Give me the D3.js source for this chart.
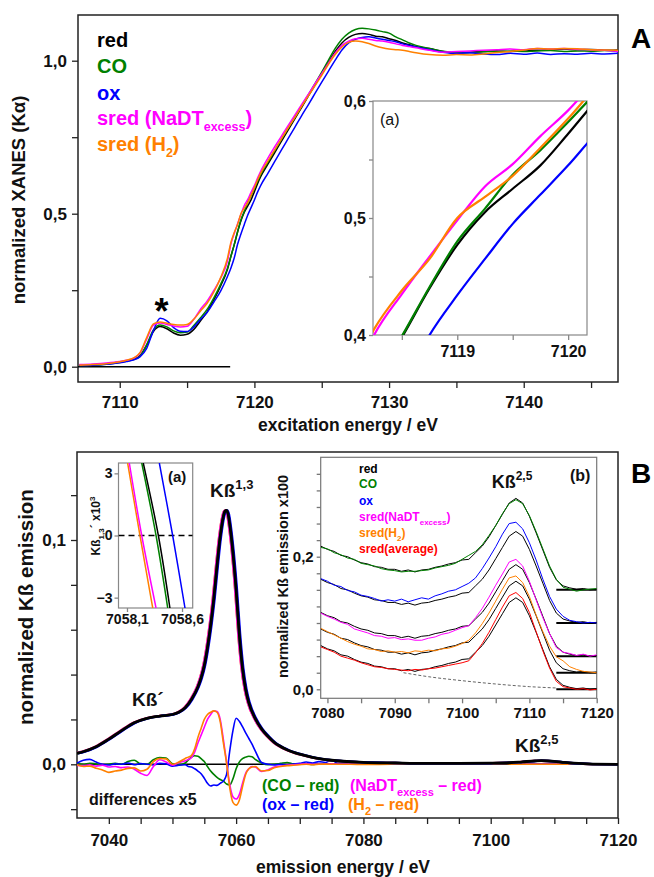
<!DOCTYPE html>
<html><head><meta charset="utf-8">
<script src="https://cdn.jsdelivr.net/npm/d3@7/dist/d3.min.js"></script>
<style>html,body{margin:0;padding:0;background:#fff;}</style>
</head><body>
<svg id="chart" width="654" height="877" xmlns="http://www.w3.org/2000/svg"></svg>
<script>
const FONT = '"Liberation Sans", Arial, Helvetica, sans-serif';

// ---------------- Panel A: Fe K-edge XANES ----------------
const energyA = [7107,7108,7109,7110,7110.5,7111,7111.5,7112,7112.5,7113,7113.5,7114,7114.5,7115,7115.5,7116,7116.5,7117,7117.5,7118,7118.25,7118.5,7118.75,7119,7119.25,7119.5,7119.75,7120,7120.25,7120.5,7121,7121.5,7122,7122.5,7123,7123.5,7124,7124.5,7125,7125.5,7126,7126.5,7127,7127.5,7128,7128.5,7129,7129.5,7130,7130.5,7131,7131.5,7132,7133,7134,7135,7136,7137,7138,7139,7140,7141,7142,7143,7144,7145,7146,7147];
const xanesRed = [0.005,0.006,0.009,0.015,0.019,0.024,0.036,0.070,0.115,0.131,0.124,0.110,0.103,0.106,0.122,0.150,0.180,0.220,0.265,0.318,0.360,0.398,0.440,0.477,0.505,0.525,0.545,0.572,0.600,0.624,0.662,0.699,0.736,0.773,0.810,0.847,0.884,0.921,0.958,0.995,1.030,1.058,1.076,1.086,1.089,1.086,1.080,1.078,1.072,1.066,1.058,1.052,1.046,1.040,1.030,1.026,1.028,1.030,1.032,1.030,1.035,1.034,1.036,1.038,1.036,1.037,1.034,1.035];
const xanesCO = [0.004,0.005,0.008,0.014,0.018,0.023,0.035,0.072,0.120,0.136,0.130,0.117,0.111,0.113,0.135,0.160,0.188,0.226,0.270,0.322,0.360,0.399,0.441,0.480,0.508,0.537,0.558,0.582,0.607,0.630,0.668,0.705,0.742,0.779,0.815,0.852,0.888,0.925,0.963,1.002,1.040,1.070,1.090,1.102,1.106,1.104,1.100,1.095,1.090,1.078,1.068,1.058,1.050,1.040,1.031,1.027,1.026,1.029,1.030,1.031,1.030,1.032,1.033,1.030,1.032,1.031,1.033,1.030];
const xanesOx = [0.004,0.005,0.008,0.013,0.017,0.022,0.032,0.060,0.118,0.158,0.150,0.128,0.116,0.115,0.130,0.155,0.178,0.212,0.248,0.295,0.322,0.355,0.400,0.434,0.465,0.495,0.520,0.545,0.572,0.595,0.632,0.670,0.708,0.745,0.782,0.820,0.856,0.893,0.930,0.966,1.002,1.035,1.058,1.070,1.076,1.078,1.074,1.070,1.066,1.062,1.055,1.050,1.045,1.036,1.028,1.024,1.026,1.022,1.020,1.024,1.021,1.025,1.020,1.023,1.021,1.024,1.022,1.024];
const xanesNaDT = [0.007,0.009,0.012,0.017,0.021,0.027,0.044,0.090,0.136,0.143,0.138,0.133,0.130,0.132,0.155,0.188,0.215,0.250,0.290,0.345,0.400,0.435,0.467,0.498,0.527,0.546,0.570,0.592,0.618,0.642,0.682,0.718,0.753,0.788,0.822,0.856,0.890,0.925,0.958,0.992,1.025,1.050,1.064,1.072,1.073,1.070,1.066,1.064,1.060,1.055,1.050,1.046,1.042,1.034,1.028,1.030,1.032,1.034,1.036,1.038,1.036,1.040,1.038,1.040,1.037,1.036,1.034,1.030];
const xanesH2 = [0.005,0.007,0.010,0.016,0.021,0.028,0.046,0.095,0.140,0.146,0.142,0.138,0.136,0.138,0.155,0.182,0.208,0.245,0.292,0.355,0.405,0.438,0.465,0.500,0.518,0.536,0.560,0.585,0.612,0.635,0.672,0.708,0.744,0.780,0.814,0.850,0.884,0.918,0.952,0.988,1.020,1.045,1.060,1.064,1.062,1.056,1.048,1.042,1.038,1.036,1.034,1.030,1.026,1.020,1.018,1.020,1.019,1.022,1.027,1.030,1.035,1.040,1.038,1.040,1.039,1.036,1.035,1.034];
const xanesLegend = ["red","CO","ox","sred (NaDT","sred (H"];
const xanesSub = ["","","","excess","2"];
const xanesEdgeBaselineEnd = 7118.2;

// ---------------- Panel B: Kβ emission ----------------
const energyB = [7035,7036,7038,7040,7042,7044,7046,7048,7050,7051,7052,7053,7054,7054.5,7055,7055.5,7056,7056.5,7057,7057.5,7058,7058.25,7058.5,7058.75,7059,7059.5,7060,7060.5,7061,7061.5,7062,7063,7064,7065,7066,7068,7070,7072,7075,7080,7085,7090,7095,7100,7103,7105,7107,7108,7109,7111,7113,7116,7120];
const kbRed = [0.0049,0.0056,0.0078,0.0112,0.0150,0.0185,0.0205,0.0215,0.0222,0.0232,0.0252,0.0290,0.0345,0.0385,0.0440,0.0520,0.0620,0.0740,0.0885,0.1015,0.1105,0.1128,0.1132,0.1115,0.1070,0.0945,0.0780,0.0580,0.0430,0.0335,0.0275,0.0205,0.0158,0.0125,0.0098,0.0065,0.0045,0.0031,0.0018,0.0009,0.0006,0.0004,0.0004,0.0005,0.0007,0.0011,0.0015,0.0016,0.0015,0.0010,0.0005,0.0001,0.0000];
// energy shift (eV) of each sample's Kβ1,3 line relative to "red" (from derivative zero crossings)
const kbSamples = ["CO","ox","NaDT","H2"];
const kbShiftEV = [-0.021, 0.130, -0.151, -0.167];

// differences (sample - red) x5
const energyDiff = [7035,7036,7037,7038,7039,7040,7041,7042,7043,7044,7045,7046,7047,7048,7049,7050,7051,7052,7052.5,7053,7053.5,7054,7054.5,7055,7055.5,7056,7056.5,7057,7057.5,7058,7058.5,7059,7059.5,7060,7060.5,7061,7061.5,7062,7062.5,7063,7064,7065,7066,7067,7068,7069,7070,7071,7072,7073,7074,7075,7076,7078,7080,7085,7090,7100,7110,7120];
const diffCO = [0.0003,0.0000,0.0005,0.0002,-0.0002,0.0000,0.0004,0.0000,0.0012,0.0018,0.0002,0.0000,0.0020,0.0030,0.0028,0.0002,-0.0002,0.0006,0.0020,0.0032,0.0038,0.0036,0.0025,0.0012,-0.0010,-0.0030,-0.0045,-0.0058,-0.0068,-0.0075,-0.0088,-0.0092,-0.0065,-0.0020,0.0010,0.0025,0.0032,0.0036,0.0034,0.0022,0.0006,-0.0002,0.0000,0.0004,0.0008,0.0002,0.0000,0.0002,-0.0001,0.0001,0.0000,0.0002,0.0000,0.0001,0.0000,0.0000,0.0001,0.0000,0.0000,0.0000];
const diffOx = [0.0005,0.0018,0.0022,0.0010,0.0000,-0.0003,0.0002,0.0000,0.0006,-0.0002,0.0003,0.0000,-0.0003,0.0004,0.0002,-0.0008,-0.0004,-0.0002,-0.0010,-0.0012,-0.0020,-0.0030,-0.0042,-0.0062,-0.0085,-0.0097,-0.0092,-0.0094,-0.0085,-0.0075,-0.0045,0.0060,0.0150,0.0205,0.0192,0.0168,0.0140,0.0115,0.0090,0.0060,0.0008,0.0000,-0.0003,0.0000,-0.0002,0.0001,0.0004,0.0010,0.0006,0.0012,0.0008,0.0018,0.0004,0.0002,0.0000,0.0000,0.0000,0.0000,0.0000,0.0000];
const diffNaDT = [-0.0005,-0.0006,-0.0002,-0.0008,-0.0004,-0.0012,-0.0010,-0.0015,-0.0012,-0.0022,-0.0040,-0.0050,-0.0010,0.0020,0.0010,-0.0004,0.0008,0.0016,0.0022,0.0030,0.0055,0.0095,0.0130,0.0165,0.0200,0.0222,0.0238,0.0235,0.0200,0.0110,0.0010,-0.0090,-0.0145,-0.0155,-0.0135,-0.0085,-0.0040,-0.0020,-0.0010,-0.0012,-0.0032,-0.0025,-0.0012,-0.0008,-0.0004,-0.0002,0.0000,0.0002,0.0000,0.0001,0.0000,0.0002,0.0000,0.0000,0.0000,0.0000,0.0000,0.0000,0.0000,0.0000];
const diffH2 = [-0.0002,-0.0010,-0.0008,-0.0018,-0.0025,-0.0036,-0.0030,-0.0026,-0.0018,-0.0016,-0.0030,-0.0022,0.0012,0.0026,0.0024,0.0000,0.0010,0.0026,0.0032,0.0040,0.0070,0.0120,0.0160,0.0200,0.0222,0.0232,0.0238,0.0232,0.0190,0.0095,0.0005,-0.0105,-0.0170,-0.0182,-0.0160,-0.0100,-0.0045,-0.0020,-0.0012,-0.0010,-0.0030,-0.0028,-0.0015,-0.0010,-0.0006,-0.0004,-0.0002,0.0000,-0.0002,0.0000,0.0001,0.0000,0.0000,0.0000,-0.0001,0.0000,0.0000,0.0000,0.0000,0.0000];

// inset (a): first derivative of Kβ1,3 (x10^3) near its zero crossing
const derivLevels = [3.5, 0, -3.5];
const derivRed  = [7058.248, 7058.385, 7058.490];
const derivCO   = [7058.234, 7058.364, 7058.470];
const derivOx   = [7058.394, 7058.515, 7058.627];
const derivNaDT = [7058.121, 7058.234, 7058.364];
const derivH2   = [7058.106, 7058.218, 7058.334];

// inset (b): Kβ2,5 region x100, stacked with offsets
const energyK25 = [7079,7080,7081,7082,7083,7084,7085,7086,7087,7088,7089,7090,7091,7092,7093,7094,7095,7096,7097,7098,7099,7100,7101,7102,7103,7104,7105,7106,7107,7108,7109,7110,7111,7112,7113,7114,7115,7116,7117,7118,7119,7120];
const k25Red  = [0.066,0.061,0.058,0.052,0.050,0.045,0.041,0.039,0.035,0.034,0.031,0.031,0.028,0.030,0.027,0.030,0.031,0.034,0.036,0.039,0.041,0.045,0.046,0.056,0.066,0.080,0.097,0.114,0.131,0.138,0.131,0.111,0.086,0.060,0.034,0.015,0.006,0.003,0.001,0.002,0.000,0.001];
const k25CO   = [0.064,0.062,0.056,0.053,0.048,0.046,0.040,0.038,0.036,0.032,0.030,0.029,0.027,0.028,0.028,0.029,0.030,0.033,0.035,0.037,0.040,0.046,0.052,0.058,0.068,0.082,0.097,0.115,0.130,0.136,0.130,0.112,0.088,0.062,0.036,0.016,0.004,0.001,-0.002,0.000,0.001,0.002];
const k25Ox   = [0.067,0.063,0.057,0.055,0.049,0.047,0.042,0.040,0.037,0.033,0.035,0.033,0.036,0.032,0.035,0.038,0.036,0.041,0.044,0.048,0.050,0.055,0.060,0.068,0.082,0.098,0.115,0.134,0.150,0.152,0.142,0.121,0.095,0.066,0.040,0.021,0.010,0.004,0.002,0.000,0.001,0.000];
const k25NaDT = [0.065,0.060,0.056,0.051,0.048,0.041,0.038,0.035,0.031,0.030,0.027,0.028,0.025,0.026,0.024,0.024,0.027,0.029,0.033,0.035,0.039,0.043,0.046,0.058,0.072,0.089,0.107,0.124,0.142,0.146,0.136,0.113,0.085,0.058,0.034,0.013,0.006,0.004,0.001,0.003,0.000,0.002];
const k25H2   = [0.067,0.062,0.057,0.052,0.047,0.043,0.040,0.036,0.035,0.032,0.033,0.031,0.032,0.030,0.033,0.032,0.034,0.033,0.036,0.037,0.040,0.044,0.049,0.060,0.074,0.090,0.108,0.126,0.143,0.146,0.136,0.115,0.087,0.062,0.040,0.024,0.018,0.009,0.005,0.002,0.001,0.000];
const k25Avg  = [0.064,0.060,0.056,0.050,0.047,0.044,0.040,0.037,0.034,0.033,0.031,0.030,0.029,0.028,0.030,0.029,0.031,0.032,0.034,0.036,0.038,0.040,0.043,0.055,0.069,0.086,0.105,0.124,0.141,0.146,0.137,0.116,0.087,0.058,0.032,0.012,0.004,0.002,0.000,0.001,-0.001,0.000];
const k25Offsets = [0.15, 0.10, 0.05, 0.025, 0.0];
const k25BaseStart = 7114;
const bgEnergy = [7091.3,7095,7100,7105,7110,7114];
const bgValue  = [0.025,0.019,0.013,0.008,0.004,0.002];
const k25Legend = ["red","CO","ox","sred(NaDT","sred(H","sred(average)"];
const k25LegendSub = ["","","","excess","2",""];

// ---------------- colours ----------------
const C = {red:"#000000", CO:"#008000", ox:"#0000ff", NaDT:"#ff00ff", H2:"#ff8000", avg:"#ff0000"};

// ================= drawing =================
const svg = d3.select("#chart");
const fmtComma = d => d3.format(".1f")(d).replace(".", ",");
const near = (a,b) => Math.abs(a-b) < 1e-9;

function styleAxis(g, size, tickColor) {
  g.select(".domain").remove();
  g.attr("font-family", FONT).attr("font-size", size).attr("font-weight", "bold");
  g.selectAll(".tick line").attr("stroke", tickColor || "#222").attr("stroke-width", 1.3);
  g.selectAll(".tick text").attr("fill", "#111");
}
function frame(x0, x1, y0, y1, stroke, sw, fill) {
  svg.append("rect").attr("x", x0).attr("y", y0).attr("width", x1 - x0).attr("height", y1 - y0)
    .attr("fill", fill || "none").attr("stroke", stroke).attr("stroke-width", sw);
}
function clip(id, x0, x1, y0, y1) {
  svg.append("clipPath").attr("id", id).append("rect").attr("x", x0).attr("y", y0).attr("width", x1 - x0).attr("height", y1 - y0);
}
function label(x, y, parts, size, color, opts) {
  opts = opts || {};
  const t = svg.append("text").attr("x", x).attr("y", y).attr("font-family", FONT)
    .attr("font-size", size).attr("font-weight", opts.weight || "bold").attr("fill", color)
    .attr("text-anchor", opts.anchor || "start");
  if (opts.transform) t.attr("transform", opts.transform).attr("x", 0).attr("y", 0);
  let shift = 0;
  parts.forEach(p => {
    const s = t.append("tspan").text(p.t);
    const target = p.sub ? size * 0.3 : (p.sup ? -size * 0.42 : 0);
    if (target !== shift) { s.attr("dy", target - shift); shift = target; }
    if (p.sub || p.sup) s.attr("font-size", p.size || size * 0.65);
  });
  return t;
}

// ---------- Panel A ----------
const A = {x0: 78, x1: 618, y0: 15, y1: 382};
const xA = d3.scaleLinear().domain([7106.9, 7147]).range([A.x0, A.x1]);
const yA = d3.scaleLinear().domain([0, 1]).range([366.7, 60.7]);
frame(A.x0, A.x1, A.y0, A.y1, "#222", 1.5, "#fff");
clip("clipA", A.x0, A.x1, A.y0, A.y1);

svg.append("g").attr("transform", `translate(0,${A.y1})`)
  .call(d3.axisBottom(xA).tickValues(d3.range(7110, 7146, 5)).tickSize(6).tickPadding(8)
    .tickFormat(d => d % 10 === 0 ? d : ""))
  .call(g => styleAxis(g, 17));
svg.append("g").attr("transform", `translate(${A.x0},0)`)
  .call(d3.axisLeft(yA).tickValues([0, 0.25, 0.5, 0.75, 1]).tickSize(6).tickPadding(5)
    .tickFormat(d => (near(d,0) || near(d,0.5) || near(d,1)) ? fmtComma(d) : ""))
  .call(g => styleAxis(g, 17));

svg.append("line").attr("x1", xA(7106.9)).attr("x2", xA(xanesEdgeBaselineEnd))
  .attr("y1", yA(0)).attr("y2", yA(0)).attr("stroke", "#000").attr("stroke-width", 1.5);

const seriesA = [
  {v: xanesRed, c: C.red}, {v: xanesCO, c: C.CO}, {v: xanesOx, c: C.ox},
  {v: xanesNaDT, c: C.NaDT}, {v: xanesH2, c: C.H2}
];
const lineA = (xs, ys) => d3.line().x(d => xs(d[0])).y(d => ys(d[1])).curve(d3.curveMonotoneX);
const gA = svg.append("g").attr("clip-path", "url(#clipA)");
seriesA.forEach(s => {
  gA.append("path").datum(energyA.map((e, i) => [e, s.v[i]]))
    .attr("d", lineA(xA, yA)).attr("fill", "none").attr("stroke", s.c).attr("stroke-width", 1.5);
});

// legend A
const legColorsA = [C.red, C.CO, C.ox, C.NaDT, C.H2];
const legYA = [47, 73, 99.5, 125, 151];
xanesLegend.forEach((t, i) => {
  const parts = [{t}];
  if (xanesSub[i]) { parts.push({t: xanesSub[i], sub: true, size: 12.5}); parts.push({t: ")"}); }
  label(97, legYA[i], parts, 20, legColorsA[i]);
});
label(161.5, 324, [{t: "*"}], 36, "#000", {anchor: "middle"});
label(641, 48, [{t: "A"}], 28, "#000", {anchor: "middle"});
label(348, 431, [{t: "excitation energy / eV"}], 17.5, "#111", {anchor: "middle"});
label(0, 0, [{t: "normalized XANES (Kα)"}], 18.5, "#111", {anchor: "middle", transform: "translate(25,200) rotate(-90)"});

// inset A(a)
const IA = {x0: 373, x1: 587, y0: 101, y1: 335};
const xIA = d3.scaleLinear().domain([7118.24, 7120.17]).range([IA.x0, IA.x1]);
const yIA = d3.scaleLinear().domain([0.4, 0.6]).range([IA.y1, IA.y0]);
frame(IA.x0, IA.x1, IA.y0, IA.y1, "#888", 1.2, "#fff");
clip("clipIA", IA.x0, IA.x1, IA.y0, IA.y1);
svg.append("g").attr("transform", `translate(0,${IA.y1})`)
  .call(d3.axisBottom(xIA).tickValues([7118.5, 7119, 7119.5, 7120]).tickSize(5).tickPadding(6)
    .tickFormat(d => d % 1 === 0 ? d : ""))
  .call(g => styleAxis(g, 16, "#888"));
svg.append("g").attr("transform", `translate(${IA.x0},0)`)
  .call(d3.axisLeft(yIA).tickValues([0.4, 0.45, 0.5, 0.55, 0.6]).tickSize(4).tickPadding(3)
    .tickFormat(d => (near(d,0.4) || near(d,0.5) || near(d,0.6)) ? fmtComma(d) : ""))
  .call(g => styleAxis(g, 16, "#888"));
const gIA = svg.append("g").attr("clip-path", "url(#clipIA)");
seriesA.forEach(s => {
  gIA.append("path").datum(energyA.map((e, i) => [e, s.v[i]]))
    .attr("d", lineA(xIA, yIA)).attr("fill", "none").attr("stroke", s.c).attr("stroke-width", 2.2);
});
label(380, 125, [{t: "(a)"}], 16, "#111", {weight: "normal"});

// ---------- Panel B ----------
const B = {x0: 77, x1: 618, y0: 452, y1: 818};
const xB = d3.scaleLinear().domain([7035, 7120]).range([B.x0, B.x1]);
const yB = d3.scaleLinear().domain([0, 0.1]).range([764.3, 540]);
frame(B.x0, B.x1, B.y0, B.y1, "#222", 1.5, "#fff");
clip("clipB", B.x0, B.x1, B.y0, B.y1);
svg.append("g").attr("transform", `translate(0,${B.y1})`)
  .call(d3.axisBottom(xB).tickValues(d3.range(7040, 7121, 5)).tickSize(6).tickPadding(10)
    .tickFormat(d => d % 20 === 0 ? d : ""))
  .call(g => styleAxis(g, 17));
svg.append("g").attr("transform", `translate(${B.x0},0)`)
  .call(d3.axisLeft(yB).tickValues([-0.02, 0, 0.02, 0.04, 0.06, 0.08, 0.1, 0.12]).tickSize(6).tickPadding(5)
    .tickFormat(d => (near(d,0) || near(d,0.1)) ? fmtComma(d) : ""))
  .call(g => styleAxis(g, 17));

const gB = svg.append("g").attr("clip-path", "url(#clipB)");
gB.append("line").attr("x1", B.x0).attr("x2", B.x1).attr("y1", yB(0)).attr("y2", yB(0))
  .attr("stroke", "#000").attr("stroke-width", 1.5);
const lineB = d3.line().x(d => xB(d[0])).y(d => yB(d[1])).curve(d3.curveMonotoneX);
// differences x5
const diffSeries = [{v: diffCO, c: C.CO}, {v: diffOx, c: C.ox}, {v: diffNaDT, c: C.NaDT}, {v: diffH2, c: C.H2}];
diffSeries.forEach(s => {
  gB.append("path").datum(energyDiff.map((e, i) => [e, s.v[i]]))
    .attr("d", lineB).attr("fill", "none").attr("stroke", s.c).attr("stroke-width", 1.6);
});
// Kβ main lines: samples (shifted) then red on top
const kbColors = [C.CO, C.ox, C.NaDT, C.H2];
[3, 2, 0, 1].forEach(k => {
  gB.append("path").datum(energyB.map((e, i) => [e + kbShiftEV[k], kbRed[i]]))
    .attr("d", lineB).attr("fill", "none").attr("stroke", kbColors[k]).attr("stroke-width", 2.4);
});
gB.append("path").datum(energyB.map((e, i) => [e, kbRed[i]]))
  .attr("d", lineB).attr("fill", "none").attr("stroke", C.red).attr("stroke-width", 2.8);

label(641, 483, [{t: "B"}], 28, "#000", {anchor: "middle"});
label(343, 873, [{t: "emission energy / eV"}], 17.5, "#111", {anchor: "middle"});
label(0, 0, [{t: "normalized Kß emission"}], 20.5, "#111", {anchor: "middle", transform: "translate(33,607) rotate(-90)"});
label(210, 497, [{t: "Kß"}, {t: "1,3", sup: true, size: 13}], 19, "#111");
label(132, 706, [{t: "Kß´"}], 19, "#111");
label(515, 752, [{t: "Kß"}, {t: "2,5", sup: true, size: 13}], 19, "#111");
label(89, 805, [{t: "differences x5"}], 16, "#111");
label(262, 791, [{t: "(CO – red)"}], 16, C.CO);
label(350, 791, [{t: "(NaDT"}, {t: "excess", sub: true, size: 11}, {t: " – red)"}], 16, C.NaDT);
label(262, 810, [{t: "(ox – red)"}], 16, C.ox);
label(348, 810, [{t: "(H"}, {t: "2", sub: true, size: 11}, {t: " – red)"}], 16, C.H2);

// inset B(a): derivative
const IBa = {x0: 118.5, x1: 192.7, y0: 463, y1: 608};
const xIBa = d3.scaleLinear().domain([7058.023, 7058.697]).range([IBa.x0, IBa.x1]);
const yIBa = d3.scaleLinear().domain([-3.5, 3.5]).range([IBa.y1, IBa.y0]);
frame(IBa.x0, IBa.x1, IBa.y0, IBa.y1, "#888", 1.2, "#fff");
clip("clipIBa", IBa.x0, IBa.x1, IBa.y0, IBa.y1);
svg.append("g").attr("transform", `translate(0,${IBa.y1})`)
  .call(d3.axisBottom(xIBa).tickValues([7058.1, 7058.6]).tickSize(4).tickPadding(2)
    .tickFormat(d => d3.format(".1f")(d).replace(".", ",")))
  .call(g => styleAxis(g, 14, "#888"));
svg.append("g").attr("transform", `translate(${IBa.x0},0)`)
  .call(d3.axisLeft(yIBa).tickValues([-3, 0, 3]).tickSize(4).tickPadding(2).tickFormat(d3.format("d")))
  .call(g => styleAxis(g, 14, "#888"));
const gIBa = svg.append("g").attr("clip-path", "url(#clipIBa)");
gIBa.append("line").attr("x1", IBa.x0).attr("x2", IBa.x1).attr("y1", yIBa(0)).attr("y2", yIBa(0))
  .attr("stroke", "#000").attr("stroke-width", 1.6).attr("stroke-dasharray", "6,4");
const lineIBa = d3.line().x(d => xIBa(d[0])).y(d => yIBa(d[1])).curve(d3.curveCatmullRom);
[{v: derivH2, c: C.H2}, {v: derivNaDT, c: C.NaDT}, {v: derivCO, c: C.CO}, {v: derivRed, c: C.red}, {v: derivOx, c: C.ox}]
  .forEach(s => {
    gIBa.append("path").datum(s.v.map((e, i) => [e, derivLevels[i]]))
      .attr("d", lineIBa).attr("fill", "none").attr("stroke", s.c).attr("stroke-width", 1.5);
  });
label(168, 482, [{t: "(a)"}], 15, "#111");
label(0, 0, [{t: "Kß"}, {t: "1,3", sub: true, size: 8}, {t: "´ x10"}, {t: "3", sup: true, size: 8}], 12, "#111",
  {anchor: "middle", transform: "translate(100,526) rotate(-90)"});

// inset B(b): Kβ2,5
const IBb = {x0: 320.7, x1: 596.7, y0: 457.3, y1: 698.3};
const xIBb = d3.scaleLinear().domain([7079, 7120]).range([IBb.x0, IBb.x1]);
const yIBb = d3.scaleLinear().domain([0, 0.2]).range([689.3, 556.7]);
frame(IBb.x0, IBb.x1, IBb.y0, IBb.y1, "#777", 1.2, "#fff");
clip("clipIBb", IBb.x0, IBb.x1, IBb.y0, IBb.y1);
svg.append("g").attr("transform", `translate(0,${IBb.y1})`)
  .call(d3.axisBottom(xIBb).tickValues(d3.range(7080, 7121, 5)).tickSize(5).tickPadding(4)
    .tickFormat(d => d % 10 === 0 ? d : ""))
  .call(g => styleAxis(g, 15, "#777"));
svg.append("g").attr("transform", `translate(${IBb.x0},0)`)
  .call(d3.axisLeft(yIBb).tickValues(d3.range(0, 0.34, 0.025)).tickSize(4).tickPadding(3)
    .tickFormat(d => (near(d,0) || near(d,0.2)) ? fmtComma(d) : ""))
  .call(g => styleAxis(g, 15, "#777"));
const gIBb = svg.append("g").attr("clip-path", "url(#clipIBb)");
const lineIBb = d3.line().x(d => xIBb(d[0])).y(d => yIBb(d[1]));
gIBb.append("path").datum(bgEnergy.map((e, i) => [e, bgValue[i]]))
  .attr("d", lineIBb.curve(d3.curveMonotoneX)).attr("fill", "none").attr("stroke", "#666")
  .attr("stroke-width", 1).attr("stroke-dasharray", "3,2");
lineIBb.curve(d3.curveLinear);
const k25Samples = [{v: k25CO, c: C.CO}, {v: k25Ox, c: C.ox}, {v: k25NaDT, c: C.NaDT}, {v: k25H2, c: C.H2}, {v: k25Avg, c: C.avg}];
k25Samples.forEach((s, k) => {
  const off = k25Offsets[k];
  gIBb.append("line").attr("x1", xIBb(k25BaseStart)).attr("x2", xIBb(7120))
    .attr("y1", yIBb(off)).attr("y2", yIBb(off)).attr("stroke", "#000").attr("stroke-width", 2);
  gIBb.append("path").datum(energyK25.map((e, i) => [e, k25Red[i] + off]))
    .attr("d", lineIBb).attr("fill", "none").attr("stroke", "#000").attr("stroke-width", 1);
  gIBb.append("path").datum(energyK25.map((e, i) => [e, s.v[i] + off]))
    .attr("d", lineIBb).attr("fill", "none").attr("stroke", s.c).attr("stroke-width", 1);
});
const legColorsB = [C.red, C.CO, C.ox, C.NaDT, C.H2, C.avg];
const legYB = [473, 488, 505, 521, 537, 553];
k25Legend.forEach((t, i) => {
  const parts = [{t}];
  if (k25LegendSub[i]) { parts.push({t: k25LegendSub[i], sub: true, size: 8}); parts.push({t: ")"}); }
  label(359, legYB[i], parts, 12, legColorsB[i]);
});
label(491.7, 488, [{t: "Kß"}, {t: "2,5", sup: true, size: 12}], 18, "#111");
label(570, 481, [{t: "(b)"}], 16, "#111");
label(0, 0, [{t: "normalized Kß emission x100"}], 14.5, "#111", {anchor: "start", transform: "translate(288,678) rotate(-90)"});
</script>
</body></html>
